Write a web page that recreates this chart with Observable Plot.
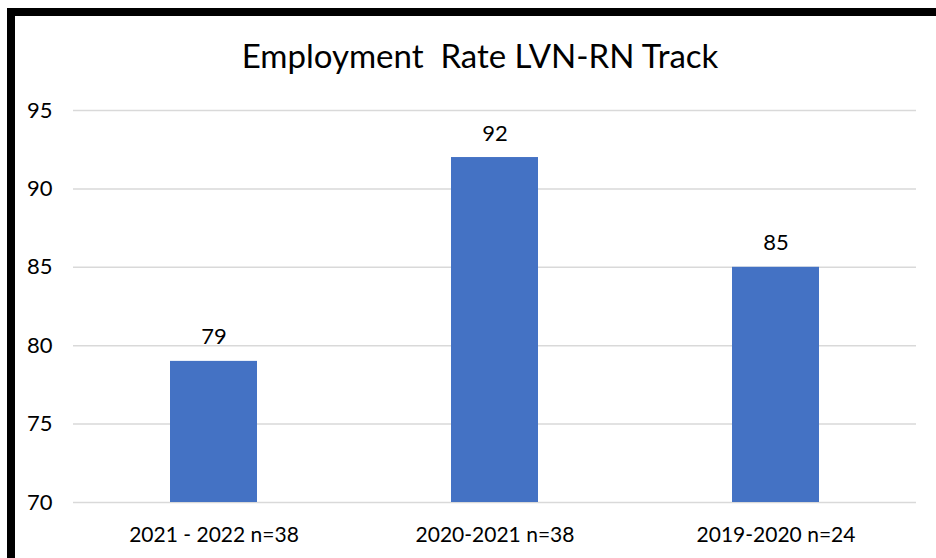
<!DOCTYPE html>
<html>
<head>
<meta charset="utf-8">
<script src="https://cdn.jsdelivr.net/npm/d3@7"></script>
<script src="https://cdn.jsdelivr.net/npm/@observablehq/plot@0.6"></script>
<style>
  html, body { margin: 0; padding: 0; background: #fff; overflow: hidden; width: 936px; height: 558px; }
  #frame { position: absolute; left: 7px; top: 8px; width: 1000px; height: 1000px; border-left: 8px solid #000; border-top: 8px solid #000; }
  #title { position: absolute; left: 0; width: 960px; top: 39px; text-align: center; font-family: Lato, sans-serif; font-size: 33px; color: #000; white-space: pre; line-height: 1; }
  #chart { position: absolute; left: 0; top: 0; }
</style>
</head>
<body>
<div id="frame"></div>
<div id="title">Employment  Rate LVN-RN Track</div>
<div id="chart"></div>
<script>
const categories = ["2021 - 2022 n=38", "2020-2021 n=38", "2019-2020 n=24"];
const values = [79, 92, 85];
const yTicks = [70, 75, 80, 85, 90, 95];

const data = categories.map((c, i) => ({category: c, value: values[i]}));

const chart = Plot.plot({
  width: 936,
  height: 558,
  marginLeft: 73,
  marginRight: 20,
  marginTop: 110,
  marginBottom: 56,
  style: {fontFamily: "Lato, sans-serif", fontSize: "22px", color: "#000", background: "transparent"},
  x: {domain: categories, paddingInner: 0.69, paddingOuter: 0.345, label: null},
  y: {domain: [70, 95], label: null},
  marks: [
    Plot.ruleY(yTicks, {stroke: "#d9d9d9", strokeWidth: 1.5}),
    Plot.barY(data, {x: "category", y1: 70, y2: "value", fill: "#4472C4"}),
    Plot.text(data, {x: "category", y: "value", text: d => String(d.value), dy: -24, fontSize: 22, fill: "#000"}),
    Plot.axisY(yTicks, {tickSize: 0, tickPadding: 21, fontSize: 22, label: null}),
    Plot.axisX({tickSize: 0, tickPadding: 25, fontSize: 21, label: null})
  ]
});
document.getElementById("chart").appendChild(chart);
</script>
</body>
</html>
